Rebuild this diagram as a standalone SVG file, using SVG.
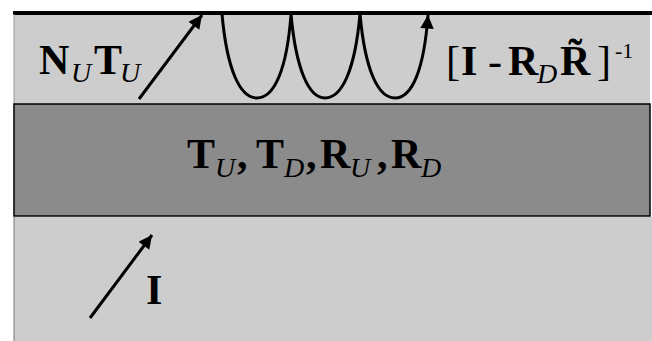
<svg xmlns="http://www.w3.org/2000/svg" width="652" height="341" viewBox="0 0 652 341">
<style>
.b{font-family:"Liberation Serif",serif;font-weight:bold;fill:#000}
.i{font-family:"Liberation Serif",serif;font-style:italic;fill:#000}
.n{font-family:"Liberation Serif",serif;fill:#000}
.c{fill:none;stroke:#000;stroke-width:3}
</style>
<defs>
<marker id="ah" viewBox="0 0 10 10" refX="10" refY="5" markerWidth="6" markerHeight="4.5" orient="auto" markerUnits="strokeWidth">
<path d="M0,0 L10,5 L0,10 z" fill="#000"/>
</marker>
</defs>
<rect width="652" height="341" fill="#fff"/>
<g id="upper-layer">
<rect x="14" y="13" width="636" height="91" fill="#cdcdcd"/>
<line x1="13" y1="13" x2="652" y2="13" stroke="#000" stroke-width="4"/>
<line x1="14" y1="14" x2="14" y2="104" stroke="#999" stroke-width="1"/>
</g>
<g id="slab">
<rect x="14" y="104" width="636" height="112" fill="#8b8b8b" stroke="#000" stroke-width="1.5"/>
</g>
<g id="lower-layer">
<rect x="14" y="217" width="638" height="124" fill="#cdcdcd"/>
<line x1="14" y1="217" x2="14" y2="341" stroke="#777" stroke-width="1"/>
</g>
<g id="connectors">
<line class="c" x1="139" y1="99" x2="202" y2="15" marker-end="url(#ah)"/>
<path class="c" d="M222,14 C227,70 240,98 257,98 C274,98 287,70 291,14 C296,70 309,98 325,98 C342,98 355,70 360,14 C365,70 378,98 395,98 C412,98 424,70 428,15" marker-end="url(#ah)"/>
<line class="c" x1="90" y1="318" x2="152" y2="235" marker-end="url(#ah)"/>
</g>
<g id="label-NUTU">
<text class="b" x="39" y="74" font-size="42">N</text>
<text class="i" x="71" y="82" font-size="28">U</text>
<text class="b" x="94" y="74" font-size="42">T</text>
<text class="i" x="120" y="82" font-size="28">U</text>
</g>
<g id="label-inverse">
<text class="n" x="446" y="75" font-size="42">[</text>
<text class="b" x="461" y="75" font-size="42">I</text>
<text class="n" x="488" y="75" font-size="42">-</text>
<text class="b" x="508" y="75" font-size="42">R</text>
<text class="i" x="537" y="83" font-size="28">D</text>
<text class="b" x="560" y="75" font-size="42">R&#x303;</text>
<text class="n" x="597" y="75" font-size="42">]</text>
<text class="n" x="615" y="58" font-size="22">-1</text>
</g>
<g id="label-slab">
<text class="b" x="187" y="168" font-size="42">T</text>
<text class="i" x="215" y="177" font-size="28">U</text>
<text class="b" x="237" y="168" font-size="42">,</text>
<text class="b" x="256" y="168" font-size="42">T</text>
<text class="i" x="284" y="177" font-size="28">D</text>
<text class="b" x="306" y="168" font-size="42">,</text>
<text class="b" x="320" y="168" font-size="42">R</text>
<text class="i" x="350" y="177" font-size="28">U</text>
<text class="b" x="377" y="168" font-size="42">,</text>
<text class="b" x="391" y="168" font-size="42">R</text>
<text class="i" x="421" y="177" font-size="28">D</text>
</g>
<g id="label-I">
<text class="b" x="146" y="304" font-size="42">I</text>
</g>
</svg>
